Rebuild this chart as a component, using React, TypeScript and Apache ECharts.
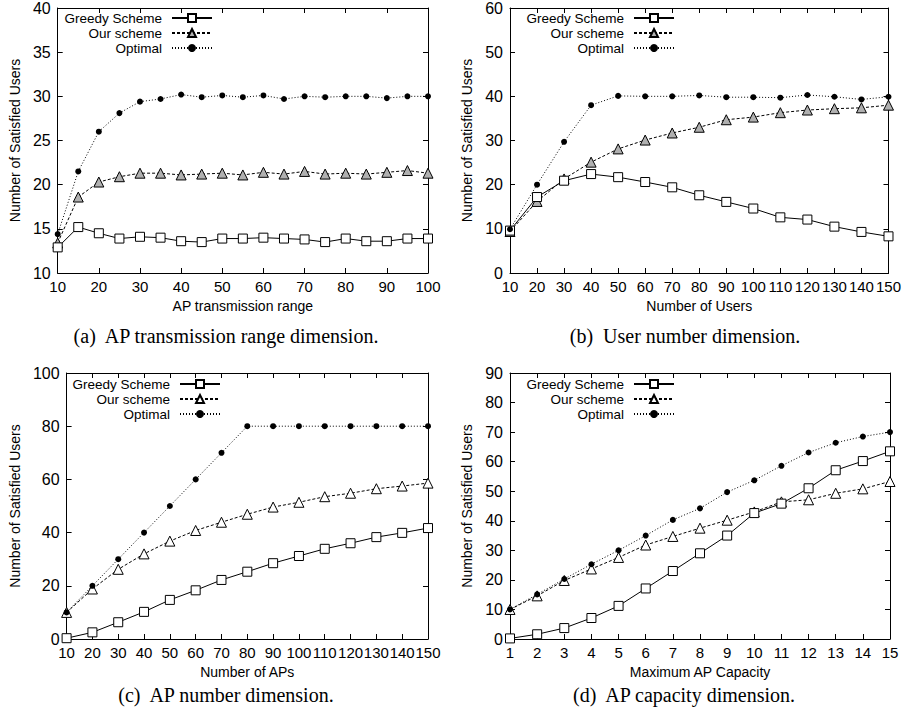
import React, { useEffect, useRef } from "react";
import * as echarts from "echarts";

// ---------- data ----------
const rangeX = [10, 15, 20, 25, 30, 35, 40, 45, 50, 55, 60, 65, 70, 75, 80, 85, 90, 95, 100];
const rangeGreedy = [12.9, 15.2, 14.5, 13.9, 14.1, 14.0, 13.6, 13.5, 13.9, 13.9, 14.0, 13.9, 13.8, 13.5, 13.9, 13.6, 13.6, 13.9, 13.9];
const rangeOur = [13.4, 18.6, 20.3, 20.9, 21.3, 21.3, 21.1, 21.2, 21.3, 21.1, 21.4, 21.2, 21.5, 21.2, 21.3, 21.2, 21.4, 21.6, 21.3];
const rangeOpt = [14.4, 21.5, 26.0, 28.1, 29.4, 29.7, 30.2, 29.9, 30.1, 29.9, 30.1, 29.7, 30.0, 29.9, 30.0, 30.0, 29.8, 30.0, 30.0];

const usersX = [10, 20, 30, 40, 50, 60, 70, 80, 90, 100, 110, 120, 130, 140, 150];
const usersGreedy = [9.6, 17.2, 20.9, 22.4, 21.7, 20.6, 19.4, 17.6, 16.1, 14.6, 12.6, 12.1, 10.5, 9.3, 8.3];
const usersOur = [9.4, 16.2, 21.3, 25.1, 28.1, 30.1, 31.7, 33.0, 34.7, 35.3, 36.3, 36.9, 37.2, 37.4, 38.0];
const usersOpt = [9.9, 20.0, 29.7, 38.0, 40.1, 40.0, 40.0, 40.2, 39.8, 39.8, 39.7, 40.3, 39.9, 39.3, 39.9];

const apsX = [10, 20, 30, 40, 50, 60, 70, 80, 90, 100, 110, 120, 130, 140, 150];
const apsGreedy = [0.3, 2.5, 6.3, 10.2, 14.7, 18.3, 22.2, 25.3, 28.5, 31.2, 33.9, 36.0, 38.3, 39.9, 41.7];
const apsOur = [10, 18.8, 26.2, 32.0, 36.8, 40.8, 43.9, 46.9, 49.6, 51.4, 53.5, 54.8, 56.5, 57.5, 58.6];
const apsOpt = [10, 20, 30, 40, 50, 60, 70, 80, 80, 80, 80, 80, 80, 80, 80];

const capX = [1, 2, 3, 4, 5, 6, 7, 8, 9, 10, 11, 12, 13, 14, 15];
const capGreedy = [0.2, 1.6, 3.7, 7.1, 11.2, 17.1, 23.0, 29.0, 35.0, 42.6, 45.8, 51.0, 57.1, 60.2, 63.5];
const capOur = [10, 14.6, 19.8, 23.7, 27.6, 31.8, 34.7, 37.5, 40.2, 43.0, 46.4, 47.1, 49.3, 50.8, 53.3];
const capOpt = [10, 15.1, 20.3, 25.3, 30.0, 35.0, 40.3, 44.2, 49.7, 53.7, 58.6, 63.1, 66.4, 68.5, 70.0];

const seriesNames = ["Greedy Scheme", "Our scheme", "Optimal"];
const yTitle = "Number of Satisfied Users";
const captions = [
  "(a)  AP transmission range dimension.",
  "(b)  User number dimension.",
  "(c)  AP number dimension.",
  "(d)  AP capacity dimension.",
];
const xTitles = ["AP transmission range", "Number of Users", "Number of APs", "Maximum AP Capacity"];

// ---------- config ----------
type Cfg = {
  box: { left: number; top: number; width: number; height: number };
  grid: { left: number; top: number; width: number; height: number };
  xs: number[];
  greedy: number[];
  our: number[];
  opt: number[];
  xMin: number;
  xMax: number;
  xInt: number;
  yMin: number;
  yMax: number;
  yInt: number;
  xTitle: string;
  xGap: number;
  yGap: number;
  triFill: string;
  legend: { right: number; top: number };
  caption: string;
  capPos: [number, number];
};

const SANS = "'Liberation Sans', Arial, Helvetica, sans-serif";
const SERIF = "'Liberation Serif', 'Times New Roman', serif";

const pair = (xs: number[], ys: number[]) => xs.map((x, i) => [x, ys[i]]);

function makeOption(c: Cfg) {
  const axisLine = { show: true, onZero: false, lineStyle: { color: "#000", width: 1 } };
  const tick = { show: true, inside: true, length: 5, lineStyle: { color: "#000", width: 1 } };
  return {
    animation: false,
    backgroundColor: "#fff",
    textStyle: { fontFamily: SANS },
    grid: { ...c.grid, containLabel: false },
    legend: {
      orient: "vertical",
      align: "right",
      right: c.legend.right,
      top: c.legend.top,
      padding: 0,
      itemWidth: 40,
      itemHeight: 10,
      itemGap: 1,
      selectedMode: false,
      textStyle: { fontSize: 13.5, lineHeight: 13, color: "#000", fontFamily: SANS, padding: [0, 5, 0, 0] },
      data: seriesNames,
    },
    xAxis: [
      {
        type: "value",
        position: "bottom",
        min: c.xMin,
        max: c.xMax,
        interval: c.xInt,
        name: c.xTitle,
        nameLocation: "middle",
        nameGap: c.xGap,
        nameTextStyle: { fontSize: 14, color: "#000", fontFamily: SANS },
        axisLine,
        axisTick: tick,
        axisLabel: { fontSize: 15, color: "#000", margin: 6, fontFamily: SANS, hideOverlap: false },
        splitLine: { show: false },
      },
      {
        type: "value",
        position: "top",
        min: c.xMin,
        max: c.xMax,
        interval: c.xInt,
        axisLine,
        axisTick: tick,
        axisLabel: { show: false },
        splitLine: { show: false },
      },
    ],
    yAxis: [
      {
        type: "value",
        position: "left",
        min: c.yMin,
        max: c.yMax,
        interval: c.yInt,
        name: yTitle,
        nameLocation: "middle",
        nameGap: c.yGap,
        nameTextStyle: { fontSize: 14, color: "#000", fontFamily: SANS },
        axisLine,
        axisTick: tick,
        axisLabel: { fontSize: 16, color: "#000", margin: 7, fontFamily: SANS },
        splitLine: { show: false },
      },
      {
        type: "value",
        position: "right",
        min: c.yMin,
        max: c.yMax,
        interval: c.yInt,
        axisLine,
        axisTick: tick,
        axisLabel: { show: false },
        splitLine: { show: false },
      },
    ],
    series: [
      {
        name: seriesNames[0],
        type: "line",
        xAxisIndex: 0,
        yAxisIndex: 0,
        data: pair(c.xs, c.greedy),
        symbol: "rect",
        symbolSize: 9,
        lineStyle: { color: "#000", width: 1, type: "solid" },
        itemStyle: { color: "#fff", borderColor: "#000", borderWidth: 1 },
        z: 3,
      },
      {
        name: seriesNames[1],
        type: "line",
        xAxisIndex: 0,
        yAxisIndex: 0,
        data: pair(c.xs, c.our),
        symbol: "triangle",
        symbolSize: 10,
        lineStyle: { color: "#000", width: 1, type: [3, 2] },
        itemStyle: { color: c.triFill, borderColor: "#000", borderWidth: 1 },
        z: 2,
      },
      {
        name: seriesNames[2],
        type: "line",
        xAxisIndex: 0,
        yAxisIndex: 0,
        data: pair(c.xs, c.opt),
        symbol: "circle",
        symbolSize: 6,
        lineStyle: { color: "#000", width: 1, type: [1, 2] },
        itemStyle: { color: "#000" },
        z: 4,
      },
    ],
    graphic: [
      {
        type: "text",
        x: c.capPos[0],
        y: c.capPos[1],
        style: {
          text: c.caption,
          fill: "#000",
          fontSize: 20,
          fontFamily: SERIF,
          align: "center",
          verticalAlign: "middle",
        },
      },
    ],
  };
}

const panels: Cfg[] = [
  {
    box: { left: 0, top: 0, width: 452, height: 350 },
    grid: { left: 48, top: 7, width: 380, height: 266 },
    xs: rangeX, greedy: rangeGreedy, our: rangeOur, opt: rangeOpt,
    xMin: 10, xMax: 100, xInt: 10, yMin: 10, yMax: 40, yInt: 5,
    xTitle: xTitles[0], xGap: 16, yGap: 26, triFill: "#b0b0b0",
    legend: { right: 239, top: 11 },
    caption: captions[0], capPos: [226, 336],
  },
  {
    box: { left: 452, top: 0, width: 452, height: 350 },
    grid: { left: 58, top: 7, width: 380, height: 266 },
    xs: usersX, greedy: usersGreedy, our: usersOur, opt: usersOpt,
    xMin: 10, xMax: 150, xInt: 10, yMin: 0, yMax: 60, yInt: 10,
    xTitle: xTitles[1], xGap: 16, yGap: 26, triFill: "#b0b0b0",
    legend: { right: 229, top: 11 },
    caption: captions[1], capPos: [233, 336],
  },
  {
    box: { left: 0, top: 350, width: 452, height: 365 },
    grid: { left: 56, top: 23, width: 372, height: 266 },
    xs: apsX, greedy: apsGreedy, our: apsOur, opt: apsOpt,
    xMin: 10, xMax: 150, xInt: 10, yMin: 0, yMax: 100, yInt: 20,
    xTitle: xTitles[2], xGap: 17, yGap: 34, triFill: "#fff",
    legend: { right: 231, top: 27 },
    caption: captions[2], capPos: [226, 345],
  },
  {
    box: { left: 452, top: 350, width: 452, height: 365 },
    grid: { left: 58, top: 23, width: 380, height: 266 },
    xs: capX, greedy: capGreedy, our: capOur, opt: capOpt,
    xMin: 1, xMax: 15, xInt: 1, yMin: 0, yMax: 90, yInt: 10,
    xTitle: xTitles[3], xGap: 17, yGap: 26, triFill: "#fff",
    legend: { right: 229, top: 27 },
    caption: captions[3], capPos: [232, 345],
  },
];

function Panel({ cfg }: { cfg: Cfg }) {
  const ref = useRef<HTMLDivElement>(null);
  useEffect(() => {
    if (!ref.current) return;
    const chart = echarts.init(ref.current, null, { renderer: "svg" });
    chart.setOption(makeOption(cfg) as any);
    return () => chart.dispose();
  }, [cfg]);
  return (
    <div
      ref={ref}
      style={{
        position: "absolute",
        left: cfg.box.left,
        top: cfg.box.top,
        width: cfg.box.width,
        height: cfg.box.height,
      }}
    />
  );
}

export default function App() {
  return (
    <div style={{ position: "absolute", left: 0, top: 0, width: 904, height: 715, background: "#fff" }}>
      {panels.map((p, i) => (
        <Panel key={i} cfg={p} />
      ))}
    </div>
  );
}
